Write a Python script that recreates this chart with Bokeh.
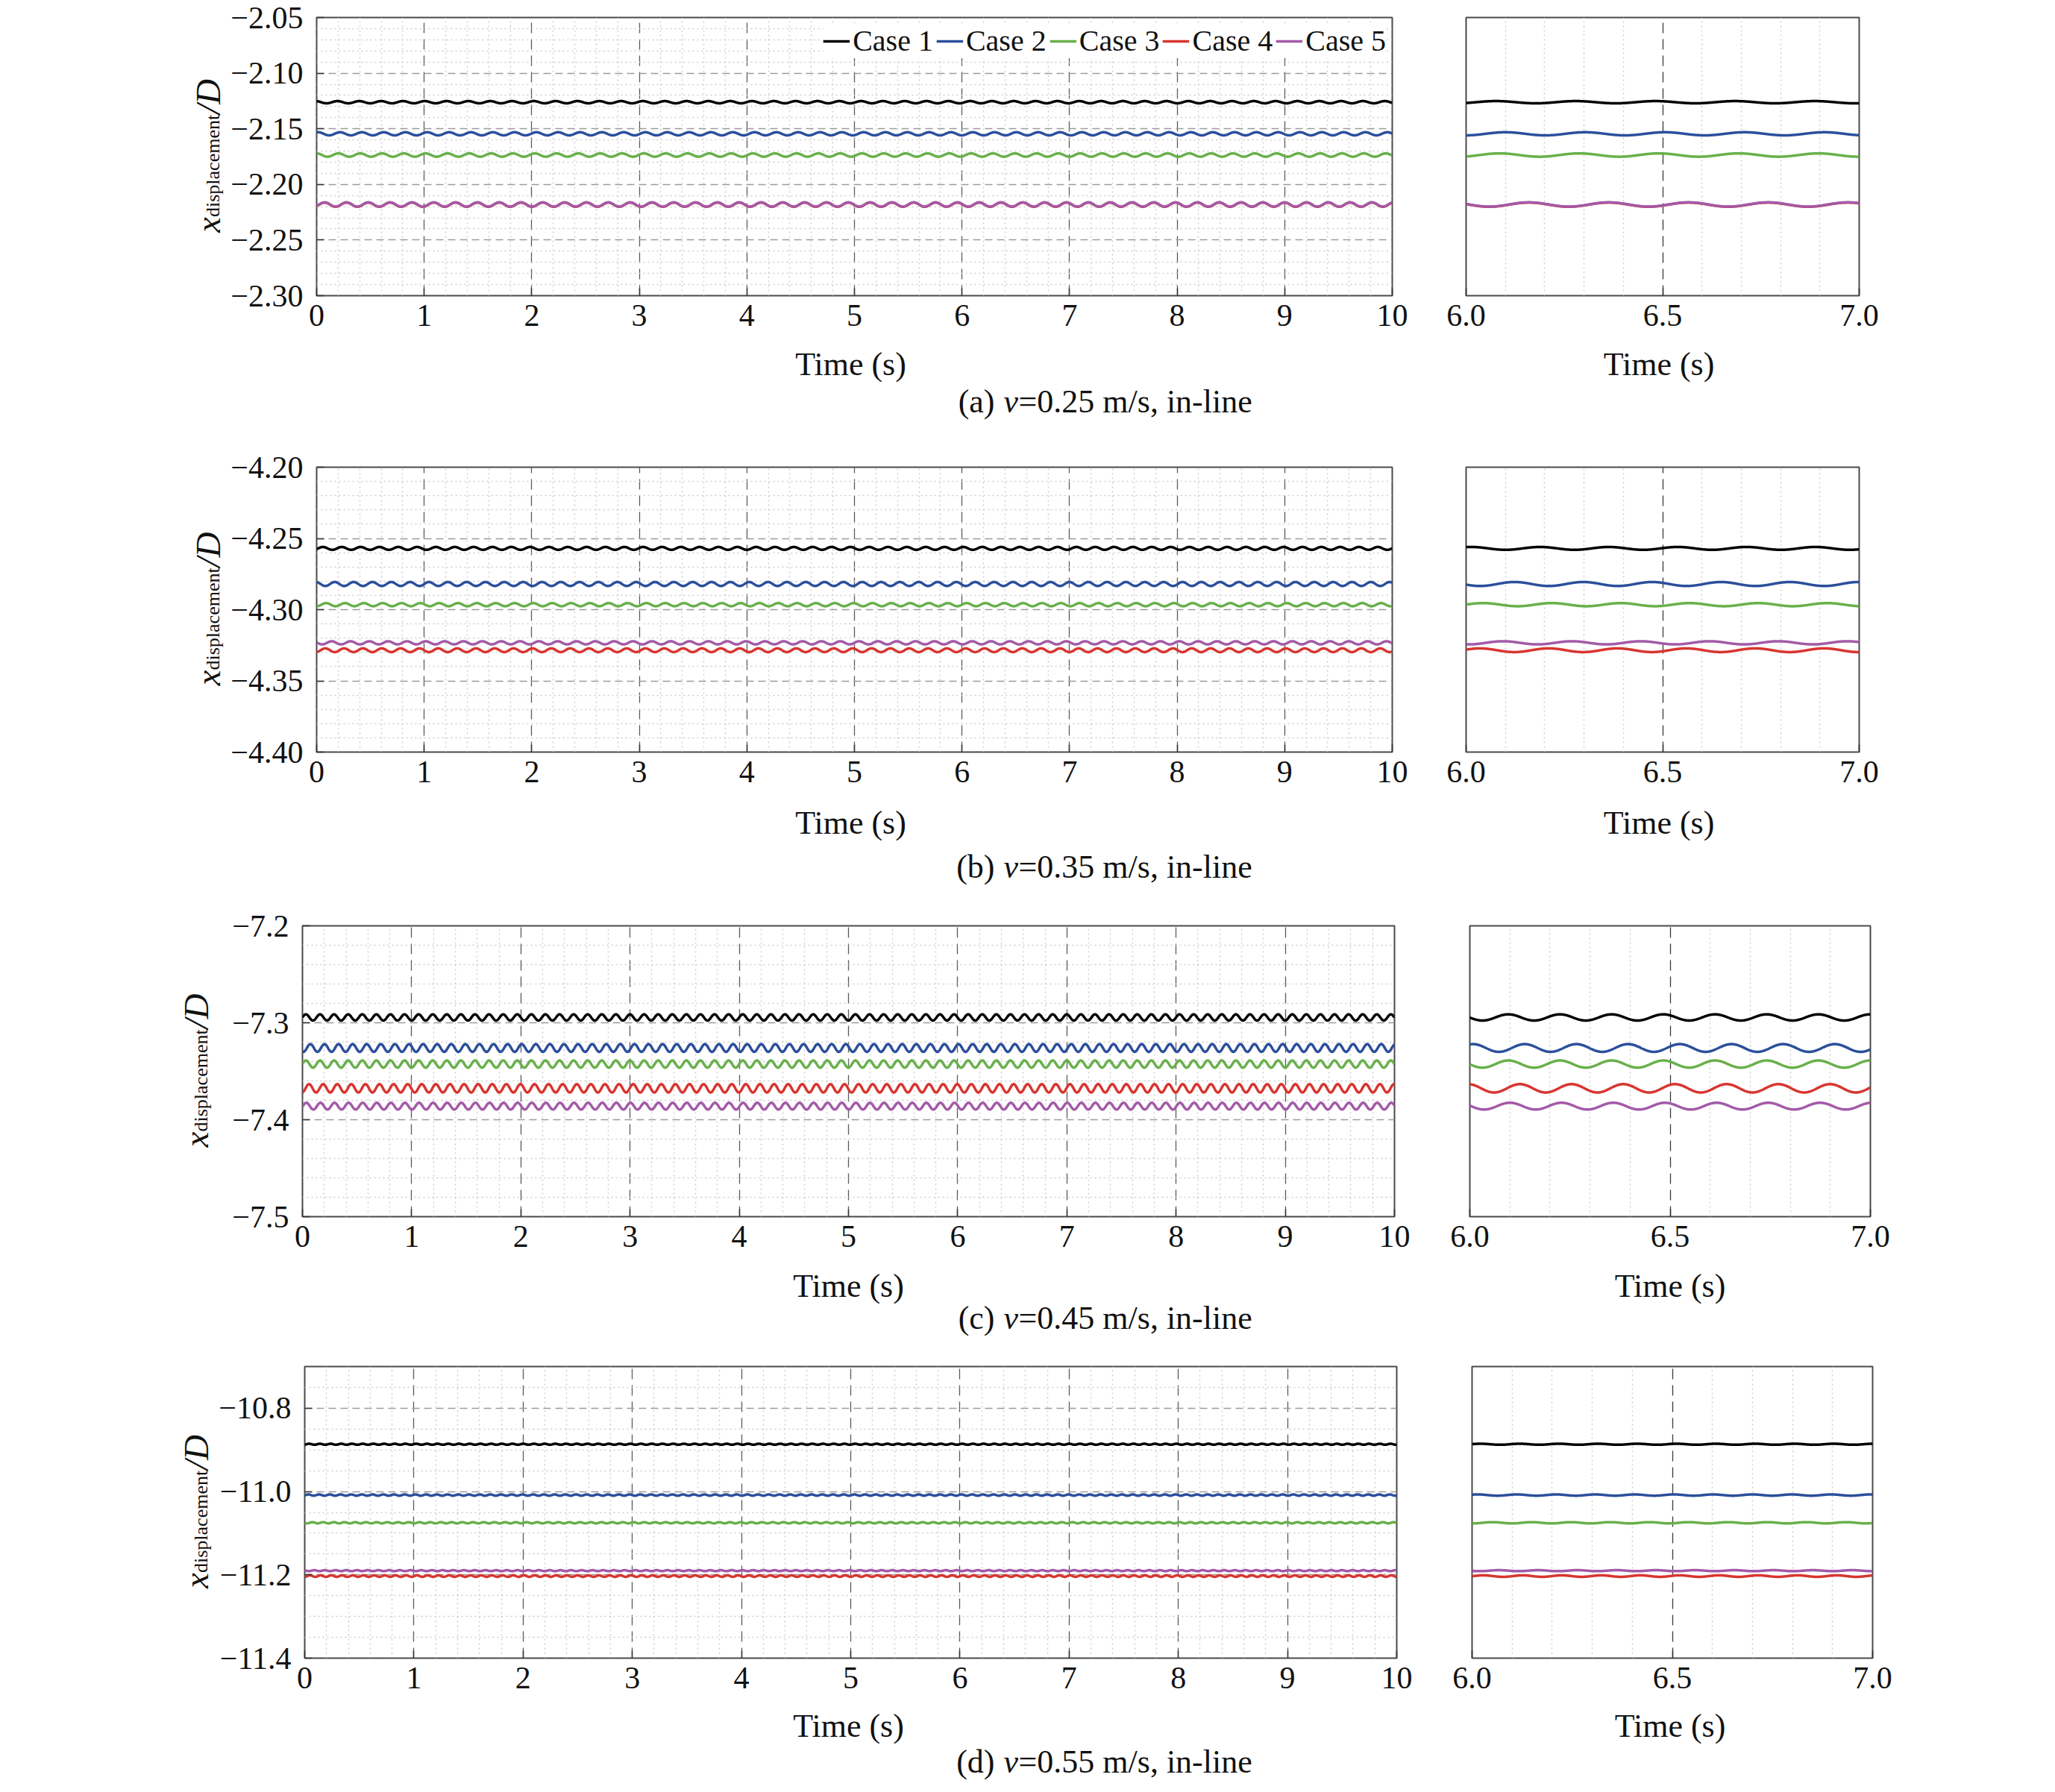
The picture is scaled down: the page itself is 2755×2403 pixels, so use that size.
import numpy as np
from bokeh.plotting import figure
from bokeh.layouts import column, row
from bokeh.models import (FixedTicker, CustomJSTickFormatter, Legend,
                          LegendItem, Range1d)
from bokeh.core.properties import value
from bokeh.embed import file_html
from bokeh.resources import INLINE

FONT = "Liberation Serif"
TXT = "#111111"

CASES = ["Case 1", "Case 2", "Case 3", "Case 4", "Case 5"]
COLORS = ["#000000", "#2b4f9c", "#69b04b", "#d8352f", "#a35aa8"]

# ---- values (mean level, half-amplitude, time of a crest, frequency) ----
# (a) v = 0.25 m/s
A_MEAN = [-2.1261, -2.1545, -2.1736, -2.2182, -2.2180]
A_AMP = [0.0010, 0.0014, 0.0015, 0.0019, 0.0019]
A_CREST = [6.076, 6.100, 6.085, 6.160, 6.160]
A_FREQ = 4.93
A_YRANGE = (-2.30, -2.05)
A_YTICKS = [-2.30, -2.25, -2.20, -2.15, -2.10, -2.05]

# (b) v = 0.35 m/s
B_MEAN = [-4.2570, -4.2820, -4.2965, -4.3285, -4.3233]
B_AMP = [0.0010, 0.0014, 0.0011, 0.0013, 0.0011]
B_CREST = [6.188, 6.123, 6.043, 6.210, 6.094]
B_FREQ = 5.71
B_YRANGE = (-4.40, -4.20)
B_YTICKS = [-4.40, -4.35, -4.30, -4.25, -4.20]

# (c) v = 0.45 m/s
C_MEAN = [-7.2945, -7.3260, -7.3426, -7.3676, -7.3860]
C_AMP = [0.0032, 0.0040, 0.0037, 0.0043, 0.0035]
C_CREST = [6.096, 6.008, 6.096, 6.125, 6.100]
C_FREQ = 7.75
C_YRANGE = (-7.5, -7.2)
C_YTICKS = [-7.5, -7.4, -7.3, -7.2]

# (d) v = 0.55 m/s
D_MEAN = [-10.8865, -11.0085, -11.0750, -11.2030, -11.1900]
D_AMP = [0.0012, 0.0015, 0.0015, 0.0018, 0.0012]
D_CREST = [6.119, 6.112, 6.051, 6.126, 6.165]
D_FREQ = 10.2
D_YRANGE = (-11.4, -10.7)
D_YTICKS = [-11.4, -11.2, -11.0, -10.8]

MAIN_XTICKS = [0, 1, 2, 3, 4, 5, 6, 7, 8, 9, 10]
ZOOM_XTICKS = [6.0, 6.5, 7.0]
XLABEL = "Time (s)"

CAPTIONS = [("(a) ", "v", "=0.25 m/s, in-line"),
            ("(b) ", "v", "=0.35 m/s, in-line"),
            ("(c) ", "v", "=0.45 m/s, in-line"),
            ("(d) ", "v", "=0.55 m/s, in-line")]


def series(t, mean, amp, crest, freq):
    return mean + amp * np.cos(2 * np.pi * freq * (t - crest))


def fmt(dec):
    return CustomJSTickFormatter(args=dict(dec=dec), code="""
        const s = Math.abs(tick).toFixed(dec);
        return (tick < -1e-12 ? "\u2212" : "") + s;""")


def style_axis(ax, size="42px"):
    ax.axis_line_color = None
    ax.major_tick_in = 10
    ax.major_tick_out = 0
    ax.minor_tick_line_color = None
    ax.major_tick_line_color = "#333333"
    ax.major_tick_line_width = 1.5
    ax.major_label_text_font = FONT
    ax.major_label_text_font_size = size
    ax.major_label_text_color = TXT


def plain_fig(w, h, xr, yr, bt=0, fh=None, bb=0):
    fh = h if fh is None else fh
    p = figure(width=w, height=bt + fh + bb, frame_width=w, frame_height=fh,
               x_range=Range1d(*xr), y_range=yr,
               min_border_left=0, min_border_right=0, min_border_top=bt,
               min_border_bottom=bb, x_axis_location=None, y_axis_location=None,
               output_backend="svg", toolbar_location=None)
    p.grid.visible = False
    p.outline_line_color = None
    p.background_fill_color = "white"
    p.border_fill_color = "white"
    return p


def base_fig(xr, yr, bl, bt, fw, fh, br, bb):
    p = figure(width=bl + fw + br, height=bt + fh + bb,
               frame_width=fw, frame_height=fh,
               x_range=Range1d(*xr), y_range=yr,
               min_border_left=bl, min_border_right=br,
               min_border_top=bt, min_border_bottom=bb,
               output_backend="svg", toolbar_location=None)
    p.outline_line_color = "#4a4a4a"
    p.outline_line_width = 2
    p.background_fill_color = "white"
    p.border_fill_color = "white"
    return p


BB_PLOT = 56   # border under the plot frames (tick labels only)
LW = 3.5

specs = [
    # yrange, yticks, yminor, dec, mean, amp, crest, freq,
    # frame_left(page), frame_top(page), fw, fh, zoom (left, width),
    # strip edge ref (page x), title anchor (page x), time label offset, caption offset, legend
    (A_YRANGE, A_YTICKS, 0.01, 2, A_MEAN, A_AMP, A_CREST, A_FREQ, 427, 31, 1442, 373, (1968, 527), 280, 286, 92, 142, True),
    (B_YRANGE, B_YTICKS, 0.01, 2, B_MEAN, B_AMP, B_CREST, B_FREQ, 427, 634, 1442, 382, (1968, 527), 280, 286, 95, 154, False),
    (C_YRANGE, C_YTICKS, 0.02, 1, C_MEAN, C_AMP, C_CREST, C_FREQ, 413, 1249, 1464, 390, (1978, 537), 264, 270, 93, 136, False),
    (D_YRANGE, D_YTICKS, 0.05, 1, D_MEAN, D_AMP, D_CREST, D_FREQ, 413, 1840, 1464, 391, (1978, 537), 264, 270, 91, 139, False),
]

row_tops = [8, 590, 1195, 1800, 2395]
TOTAL_W = 2552
MAIN_END = 1920   # page x where the zoom figure starts
blocks = []

for k, s in enumerate(specs):
    (yrng, yticks, ystep, dec, means, amps, crests, freq, fl, ft, fw, fh,
     (zl, zw), xedge, xbase, t_off, c_off, leg) = s
    bt = ft - row_tops[k]
    bb = row_tops[k + 1] - (ft + fh)
    u = (yrng[1] - yrng[0]) / fh          # data units per pixel
    yr = Range1d(*yrng)

    # ---------------- left strip: y-axis title  x_displacement / D ----------------
    wl = xedge - 8 + 34
    lf = plain_fig(wl, None, (0, wl), yr, bt=bt, fh=fh, bb=BB_PLOT)
    xb = xbase - 8
    ymid = (yrng[0] + yrng[1]) / 2
    y0 = ymid - 102 * u
    lf.text(x=[xb], y=[y0], text=["x"], angle=np.pi / 2, text_font=value(FONT),
            text_font_style="italic", text_font_size="47px", text_color=TXT,
            text_align="left", text_baseline="alphabetic")
    lf.text(x=[xb + 7], y=[y0 + 21 * u], text=["displacement"], angle=np.pi / 2,
            text_font=value(FONT), text_font_size="26px", text_color=TXT,
            text_align="left", text_baseline="alphabetic")
    lf.text(x=[xb], y=[y0 + 159 * u], text=["/D"], angle=np.pi / 2,
            text_font=value(FONT), text_font_style="italic", text_font_size="47px",
            text_color=TXT, text_align="left", text_baseline="alphabetic")

    # ---------------- main panel ----------------
    bl_main = fl - 8 - wl
    br_main = MAIN_END - (fl + fw)
    pm = base_fig((0, 10), yr, bl_main, bt, fw, fh, br_main, BB_PLOT)
    xminor = [round(v, 3) for v in np.arange(0, 10.0001, 0.2) if abs(v - round(v)) > 1e-6]
    pm.xaxis.ticker = FixedTicker(ticks=MAIN_XTICKS, minor_ticks=xminor)
    n = int(round((yrng[1] - yrng[0]) / ystep))
    ymin = [round(yrng[0] + i * ystep, 4) for i in range(n + 1)]
    ymin = [v for v in ymin if min(abs(v - t) for t in yticks) > 1e-6]
    pm.yaxis.ticker = FixedTicker(ticks=yticks, minor_ticks=ymin)
    pm.yaxis.formatter = fmt(dec)
    style_axis(pm.xaxis[0])
    style_axis(pm.yaxis[0])
    pm.yaxis.major_label_standoff = 14
    pm.xaxis.major_label_standoff = 8
    pm.xgrid.grid_line_color = "#5a5a5a"
    pm.xgrid.grid_line_dash = "14 8"
    pm.xgrid.grid_line_width = 1.3
    pm.ygrid.grid_line_color = "#9c9c9c"
    pm.ygrid.grid_line_dash = "10 6"
    pm.ygrid.grid_line_width = 1.5
    for g in (pm.xgrid, pm.ygrid):
        g.minor_grid_line_color = "#cdcdcd"
        g.minor_grid_line_dash = "2 4"
        g.minor_grid_line_width = 1.4
    t = np.linspace(0, 10, 4001)
    rends = []
    for i in range(5):
        rends.append(pm.line(t, series(t, means[i], amps[i], crests[i], freq),
                             line_color=COLORS[i], line_width=LW))
    if leg:
        items = [LegendItem(label=CASES[i], renderers=[rends[i]]) for i in range(5)]
        lg = Legend(items=items, orientation="horizontal", location="top_right",
                    label_text_font=FONT, label_text_font_size="40px",
                    label_text_color=TXT,
                    glyph_width=36, glyph_height=24, label_standoff=4,
                    spacing=4, padding=4, margin=8,
                    border_line_color=None, background_fill_color="white",
                    background_fill_alpha=1.0)
        pm.add_layout(lg)

    # ---------------- zoom panel ----------------
    zbl = zl - MAIN_END
    zbr = (8 + TOTAL_W) - (zl + zw)
    pz = base_fig((6.0, 7.0), yr, zbl, bt, zw, fh, zbr, BB_PLOT)
    pz.yaxis.visible = False
    pz.ygrid.visible = False
    pz.xaxis.ticker = FixedTicker(ticks=ZOOM_XTICKS,
                                  minor_ticks=[6.1, 6.2, 6.3, 6.4, 6.6, 6.7, 6.8, 6.9])
    pz.xaxis.formatter = fmt(1)
    style_axis(pz.xaxis[0])
    pz.xaxis.major_label_standoff = 8
    pz.xgrid.grid_line_color = "#3a3a3a"
    pz.xgrid.grid_line_dash = "14 8"
    pz.xgrid.grid_line_width = 1.3
    pz.xgrid.minor_grid_line_color = "#cdcdcd"
    pz.xgrid.minor_grid_line_dash = "2 4"
    pz.xgrid.minor_grid_line_width = 1.4
    tz = np.linspace(6.0, 7.0, 1001)
    for i in range(5):
        pz.line(tz, series(tz, means[i], amps[i], crests[i], freq),
                line_color=COLORS[i], line_width=LW)

    # ---------------- strip below: axis titles + caption ----------------
    ch = bb - BB_PLOT
    cf = plain_fig(TOTAL_W, ch, (0, TOTAL_W), Range1d(ch, 0))
    cf.text(x=[fl + fw / 2 - 8, zl + zw / 2 - 8], y=[t_off - BB_PLOT] * 2,
            text=[XLABEL, XLABEL], text_font=value(FONT), text_font_size="44px",
            text_color=TXT, text_align="center", text_baseline="middle")
    pre, vv, post = CAPTIONS[k]
    xv = 1353 - 8
    cy = c_off - BB_PLOT
    cf.text(x=[xv - 1], y=[cy], text=[pre], text_font=value(FONT),
            text_font_size="44px", text_color=TXT, text_align="right",
            text_baseline="middle")
    cf.text(x=[xv], y=[cy], text=[vv], text_font=value(FONT), text_font_style="italic",
            text_font_size="44px", text_color=TXT, text_align="left",
            text_baseline="middle")
    cf.text(x=[xv + 20], y=[cy], text=[post], text_font=value(FONT),
            text_font_size="44px", text_color=TXT, text_align="left",
            text_baseline="middle")

    blocks.append(row(lf, pm, pz))
    blocks.append(cf)

layout = column(*blocks)
open("out.html", "w").write(file_html(layout, INLINE))
